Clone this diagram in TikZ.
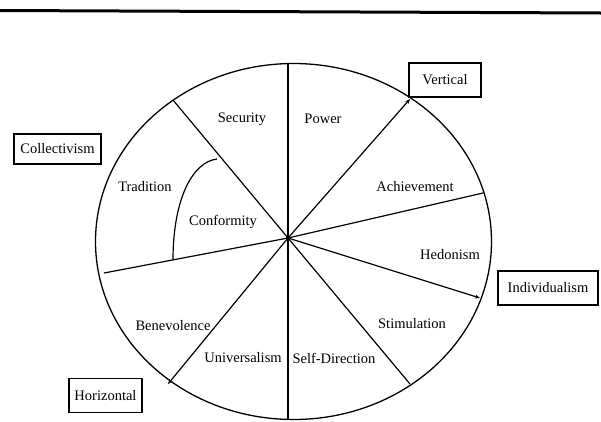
\documentclass[tikz,border=0pt]{standalone}
\usepackage{fontspec}
\setmainfont{Liberation Serif}
\usetikzlibrary{arrows.meta}
\begin{document}
\begin{tikzpicture}[x=1pt,y=-1pt,
  lbl/.style={font=\fontsize{14.5}{16}\selectfont, inner sep=0pt},
  tagbox/.style={draw, line width=1.1pt, font=\fontsize{14.5}{16}\selectfont, inner sep=0pt, minimum height=34pt},
  spoke/.style={line width=1.2pt},
  tip/.style={-{Stealth[length=5pt,width=4pt]}}]
\useasboundingbox (0,0) rectangle (601,421);
\draw[line width=3pt] (0,10.5) -- (601,13);
\draw[line width=1.3pt] (293.5,241.5) ellipse [x radius=198, y radius=178];
\coordinate (hub) at (288,238);
\coordinate (top) at (288,63);
\coordinate (bot) at (288,420);
\coordinate (sec) at (173,100);
\coordinate (ach) at (483,193);
\coordinate (sti) at (410,384);
\coordinate (tra) at (104,273);
\coordinate (ver) at (410,99);
\coordinate (ind) at (480,298);
\coordinate (hor) at (168,384);
\coordinate (cfA) at (217,159);
\coordinate (cfB) at (173,260);
\draw[spoke] (hub) -- (top);
\draw[spoke] (hub) -- (bot);
\draw[spoke] (hub) -- (sec);
\draw[spoke] (hub) -- (ach);
\draw[spoke] (hub) -- (sti);
\draw[spoke] (hub) -- (tra);
\draw[spoke,tip] (hub) -- (ver);
\draw[spoke,tip] (hub) -- (ind);
\draw[spoke,tip] (hub) -- (hor);
\draw[spoke] (cfA) .. controls (192,162) and (173,200) .. (cfB);
\fill (hub) circle (2.5pt);
\node[lbl] (security) at (242,119) {Security};
\node[lbl] (power) at (323,119) {Power};
\node[lbl] (achievement) at (415,187) {Achievement};
\node[lbl] (hedonism) at (450,255) {Hedonism};
\node[lbl] (stimulation) at (412,324) {Stimulation};
\node[lbl] (selfdir) at (334,358) {Self-Direction};
\node[lbl] (universalism) at (243,358) {Universalism};
\node[lbl] (benevolence) at (173,326) {Benevolence};
\node[lbl] (tradition) at (145,187) {Tradition};
\node[lbl] (conformity) at (223,222) {Conformity};
\node[tagbox, minimum width=72pt] (vertical) at (445,80) {Vertical};
\node[tagbox, minimum width=100pt] (individualism) at (548,288) {Individualism};
\node[tagbox, minimum width=73pt] (horizontal) at (105.5,395.5) {Horizontal};
\node[tagbox, minimum width=87pt, minimum height=30pt] (collectivism) at (57.5,149) {Collectivism};
\end{tikzpicture}
\end{document}
